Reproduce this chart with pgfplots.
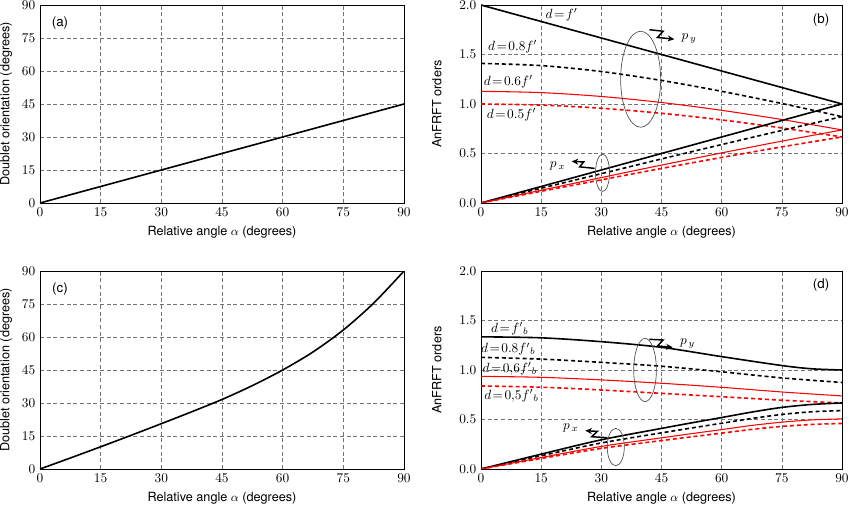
\documentclass[border=0pt]{standalone}
\usepackage{fontspec}
\setmainfont{TeX Gyre Heros}
\usepackage{pgfplots}
\pgfplotsset{compat=1.18}
\usetikzlibrary{arrows.meta}

\definecolor{gridgray}{gray}{0.45}

\tikzset{
  curvelab/.style={font=\normalsize, inner sep=0pt},
  zarrow/.style={line width=1.1pt, line join=miter, -{Stealth[length=5pt, width=4.5pt]}},
  ring/.style={gray!60!black, line width=0.5pt},
}

\pgfplotsset{
  panel/.style={
    scale only axis,
    height=148.5pt,
    xmin=0, xmax=90,
    xtick={0,15,...,90},
    grid=major,
    grid style={gridgray, line width=0.4pt, dash pattern=on 3pt off 2pt},
    major tick length=0pt,
    axis line style={line width=0.6pt},
    tick label style={font=\normalsize},
    label style={font=\fontsize{9.5}{11}\selectfont},
    xlabel={Relative angle $\alpha$ (degrees)},
    xlabel style={at={(axis description cs:0.5,-0.15)}, anchor=center},
  },
  orient/.style={panel, width=273pt,
    ymin=0, ymax=90, ytick={0,15,...,90},
    ylabel={Doublet orientation (degrees)},
    ylabel style={at={(axis description cs:-0.093,0.5)}, anchor=center},
  },
  orders/.style={panel, width=270.75pt,
    ymin=0, ymax=2, ytick={0,0.5,...,2},
    yticklabel style={/pgf/number format/.cd, fixed, fixed zerofill, precision=1},
    ylabel={AnFRFT orders},
    ylabel style={at={(axis description cs:-0.122,0.5)}, anchor=center},
  },
  kone/.style={black, line width=1.2pt},
  keight/.style={black, line width=1.2pt, dash pattern=on 3pt off 2.2pt},
  ksix/.style={red, line width=0.8pt},
  kfive/.style={red, line width=1.2pt, dash pattern=on 3pt off 2.2pt},
}

\begin{document}
\begin{tikzpicture}
\path[use as bounding box] (0,0) rectangle (637.5pt,382.5pt);

% (a)
\begin{axis}[orient, at={(30pt,230.25pt)}, anchor=south west]
\addplot[kone] coordinates {(0,0) (90,45)};
\node[font=\normalsize] at (axis description cs:0.055,0.908) {(a)};
\end{axis}

% (b)
\begin{axis}[orders, at={(360.75pt,230.25pt)}, anchor=south west]
% p_y
\addplot[kone] coordinates {(0,2) (90,1)};
\addplot[keight, smooth] coordinates {(0,1.410) (15,1.388) (30,1.328) (45,1.238) (60,1.128) (75,1.005) (90,0.872)};
\addplot[ksix, smooth] coordinates {(0,1.128) (15,1.115) (30,1.076) (45,1.015) (60,0.936) (75,0.843) (90,0.738)};
\addplot[kfive, smooth] coordinates {(0,1.000) (15,0.989) (30,0.957) (45,0.906) (60,0.839) (75,0.758) (90,0.667)};
% p_x
\addplot[kone] coordinates {(0,0) (90,1)};
\addplot[keight, smooth] coordinates {(0,0) (15,0.149) (30,0.296) (45,0.445) (60,0.590) (75,0.733) (90,0.872)};
\addplot[ksix, smooth] coordinates {(0,0) (15,0.129) (30,0.257) (45,0.383) (60,0.506) (75,0.625) (90,0.738)};
\addplot[kfive, smooth] coordinates {(0,0) (15,0.118) (30,0.234) (45,0.349) (60,0.460) (75,0.567) (90,0.667)};
\node[curvelab] at (axis cs:20.1,1.90) {$d\!=\!f'$};
\node[curvelab] at (axis cs:7.9,1.58) {$d\!=\!0.8f'$};
\node[curvelab] at (axis cs:6.8,1.225) {$d\!=\!0.6f'$};
\node[curvelab] at (axis cs:7.6,0.895) {$d\!=\!0.5f'$};
\draw[ring] (axis cs:39.8,1.25) ellipse [x radius=15pt, y radius=36pt];
\draw[ring] (axis cs:30.3,0.305) ellipse [x radius=5.25pt, y radius=14pt];
\draw[zarrow] (axis cs:42.0,1.75) -- (axis cs:45.4,1.735) -- (axis cs:44.0,1.672) -- (axis cs:48.2,1.655);
\node[curvelab] at (axis cs:51.9,1.66) {$p_{\,y}$};
\draw[zarrow] (axis cs:28.3,0.35) -- (axis cs:24.6,0.365) -- (axis cs:25.6,0.415) -- (axis cs:22.6,0.42);
\node[curvelab] at (axis cs:19.1,0.377) {$p_{\,x}$};
\node[font=\normalsize] at (axis description cs:0.942,0.924) {(b)};
\end{axis}

% (c)
\begin{axis}[orient, at={(30pt,30.75pt)}, anchor=south west]
\addplot[kone, smooth] coordinates {(0,0) (7.5,5.0) (15,10.1) (22.5,15.3) (30,20.6) (37.5,26.0) (45,31.6) (52.5,37.9) (60,45.0) (67.5,53.2) (75,63.2) (82.5,75.4) (90,90)};
\node[font=\normalsize] at (axis description cs:0.055,0.908) {(c)};
\end{axis}

% (d)
\begin{axis}[orders, at={(360.75pt,30.75pt)}, anchor=south west]
% p_y
\addplot[kone, smooth] coordinates {(0,1.335) (15,1.325) (30,1.286) (45,1.229) (60,1.135) (75,1.045) (82.5,1.012) (90,1.000)};
\addplot[keight, smooth] coordinates {(0,1.128) (15,1.110) (30,1.077) (45,1.038) (60,0.982) (75,0.920) (90,0.874)};
\addplot[ksix, smooth] coordinates {(0,0.936) (15,0.926) (30,0.900) (45,0.866) (60,0.825) (75,0.778) (90,0.738)};
\addplot[kfive, smooth] coordinates {(0,0.839) (15,0.826) (30,0.798) (45,0.764) (60,0.730) (75,0.695) (90,0.667)};
% p_x
\addplot[kone, smooth] coordinates {(0,0) (15,0.150) (30,0.295) (45,0.410) (52.5,0.466) (60,0.520) (67.5,0.575) (75,0.622) (82.5,0.652) (90,0.667)};
\addplot[keight, smooth] coordinates {(0,0) (15,0.134) (30,0.263) (45,0.365) (52.5,0.414) (60,0.462) (67.5,0.510) (75,0.551) (82.5,0.578) (90,0.590)};
\addplot[ksix, smooth] coordinates {(0,0) (15,0.116) (30,0.228) (45,0.315) (52.5,0.357) (60,0.398) (67.5,0.440) (75,0.473) (82.5,0.496) (90,0.506)};
\addplot[kfive, smooth] coordinates {(0,0) (15,0.106) (30,0.208) (45,0.287) (52.5,0.325) (60,0.362) (67.5,0.400) (75,0.430) (82.5,0.450) (90,0.460)};
\node[curvelab] at (axis cs:7.2,1.42) {$d\!=\!f'{}_{b}$};
\node[curvelab] at (axis cs:6.8,1.21) {$d\!=\!0.8f'{}_{b}$};
\node[curvelab] at (axis cs:7.2,1.017) {$d\!=\!0{,}6f'{}_{b}$};
\node[curvelab] at (axis cs:7.6,0.737) {$d\!=\!0{,}5f'{}_{b}$};
\draw[ring] (axis cs:40.9,1.0) ellipse [x radius=8.5pt, y radius=23.7pt];
\draw[ring] (axis cs:33.6,0.222) ellipse [x radius=6.4pt, y radius=14pt];
\draw[zarrow] (axis cs:42.0,1.31) -- (axis cs:45.4,1.303) -- (axis cs:44.0,1.242) -- (axis cs:47.8,1.229);
\node[curvelab] at (axis cs:51.5,1.27) {$p_{\,y}$};
\draw[zarrow] (axis cs:31.5,0.316) -- (axis cs:27.6,0.326) -- (axis cs:29.0,0.38) -- (axis cs:26.0,0.387);
\node[curvelab] at (axis cs:22.4,0.41) {$p_{\,x}$};
\node[font=\normalsize] at (axis description cs:0.942,0.929) {(d)};
\end{axis}
\end{tikzpicture}
\end{document}
